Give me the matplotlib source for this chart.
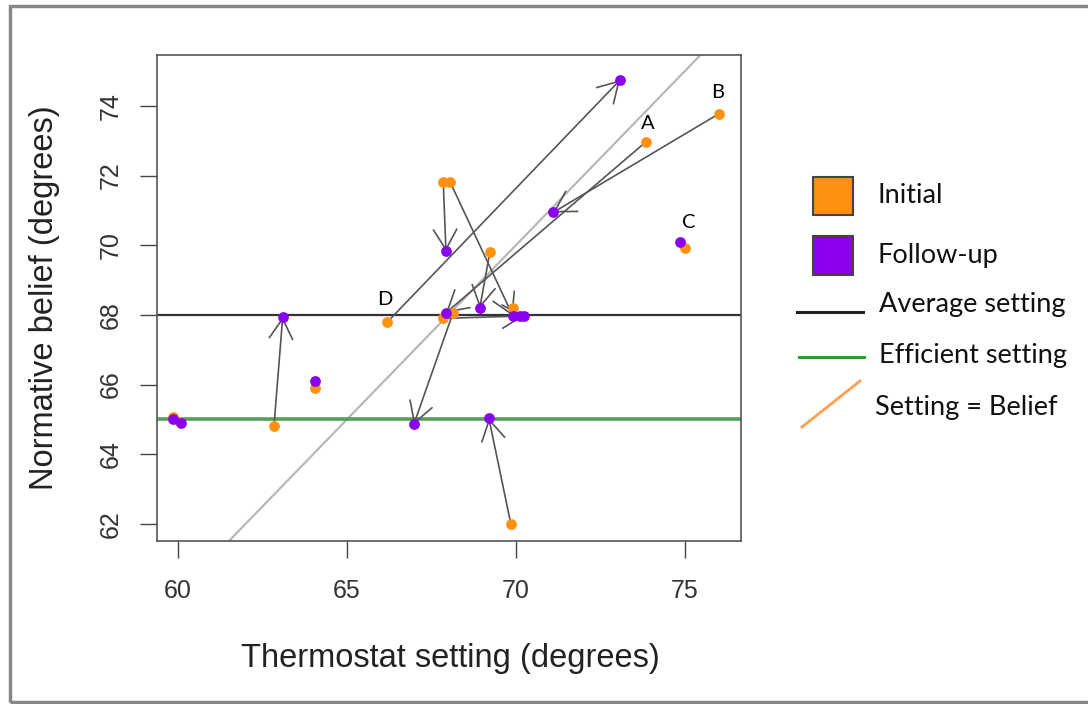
import numpy as np
import matplotlib
matplotlib.use("Agg")
import matplotlib.pyplot as plt
from matplotlib.patches import Rectangle
from matplotlib.lines import Line2D

# ---- data ----
init_x = [66.2, 73.85, 76.0, 67.85, 68.05, 69.23, 75.0, 68.14, 67.84, 69.91, 62.84, 64.05, 59.85, 60.05, 69.85]
init_y = [67.8, 72.97, 73.77, 71.82, 71.82, 69.8, 69.91, 68.06, 67.9, 68.2, 64.8, 65.91, 65.06, 64.92, 62.0]
foll_x = [73.08, 67.93, 71.1, 67.93, 69.91, 68.93, 74.85, 66.98, 70.24, 70.12, 63.1, 64.05, 59.85, 60.1, 69.2]
foll_y = [74.74, 68.06, 70.94, 69.83, 67.97, 68.2, 70.09, 64.86, 67.97, 67.97, 67.94, 66.09, 65.0, 64.9, 65.03]

labels = ["A", "B", "C", "D"]
label_x = [73.9, 75.98, 75.1, 66.12]
label_y = [73.5, 74.37, 70.66, 68.43]

average_setting = 68
efficient_setting = 65

x_ticks = [60, 65, 70, 75]
y_ticks = [62, 64, 66, 68, 70, 72, 74]

legend_labels = ["Initial", "Follow-up", "Average setting", "Efficient setting", "Setting = Belief"]

ORANGE = "#FF9010"
PURPLE = "#8A00EC"

W, H = 1088, 704
fig = plt.figure(figsize=(W / 100, H / 100), dpi=100)

def fx(px):
    return px / W

def fy(py):
    return 1 - py / H

ax = fig.add_axes([fx(157), fy(541), fx(741) - fx(157), fy(55) - fy(541)])
ax.set_xlim(59.38, 76.66)
ax.set_ylim(61.51, 75.46)

# reference lines
ax.axhline(average_setting, color="#333333", lw=1.6, zorder=2)
ax.axhline(efficient_setting, color="#55a055", lw=2.6, zorder=2)
lo, hi = 55, 80
ax.plot([lo, hi], [lo, hi], color="#b8b8b8", lw=1.6, zorder=1)

# arrows from initial to follow-up
for x0, y0, x1, y1 in zip(init_x, init_y, foll_x, foll_y):
    if np.hypot(x1 - x0, y1 - y0) > 0.5:
        ax.annotate("", xy=(x1, y1), xytext=(x0, y0),
                    arrowprops=dict(arrowstyle="->,head_length=0.72,head_width=0.42",
                                    mutation_scale=20, color="#555555", lw=1.2,
                                    shrinkA=0, shrinkB=0),
                    zorder=3)

ax.scatter(init_x, init_y, s=60, color=ORANGE, zorder=4, linewidths=0)
ax.scatter(foll_x, foll_y, s=60, color=PURPLE, zorder=5, linewidths=0)

for t, x, y in zip(labels, label_x, label_y):
    ax.text(x, y, t, ha="center", va="center", fontsize=14.5, family="Lato", color="black", zorder=6)

ax.set_xticks(x_ticks)
ax.set_yticks(y_ticks)
ax.tick_params(axis="both", direction="out", length=12, width=1.0, color="#444444",
               labelsize=18, labelcolor="#333333")
ax.tick_params(axis="x", pad=15)
ax.tick_params(axis="y", pad=13)
for lab in ax.get_yticklabels():
    lab.set_rotation(90)
    lab.set_va("center")
for lab in ax.get_xticklabels() + ax.get_yticklabels():
    lab.set_family("Liberation Sans")
for s in ax.spines.values():
    s.set_color("#555555")
    s.set_linewidth(1.2)

fig.text(fx(450), fy(658), "Thermostat setting (degrees)", ha="center", va="center",
         fontsize=23.5, family="Liberation Sans", color="#222222")
fig.text(fx(45), fy(298), "Normative belief (degrees)", ha="center", va="center",
         rotation=90, fontsize=23.5, family="Liberation Sans", color="#222222")

# legend drawn manually
fig.patches.append(Rectangle((fx(813), fy(215)), fx(853) - fx(813), fy(177) - fy(215),
                             transform=fig.transFigure, facecolor=ORANGE, edgecolor="#444444", lw=1.5))
fig.patches.append(Rectangle((fx(813), fy(275)), fx(853) - fx(813), fy(236) - fy(275),
                             transform=fig.transFigure, facecolor=PURPLE, edgecolor="#444444", lw=1.5))
fig.lines.append(Line2D([fx(797), fx(863)], [fy(312), fy(312)], transform=fig.transFigure,
                        color="#222222", lw=2.2))
fig.lines.append(Line2D([fx(799), fx(864)], [fy(357), fy(357)], transform=fig.transFigure,
                        color="#2aa02a", lw=2.2))
fig.lines.append(Line2D([fx(802), fx(860)], [fy(427), fy(381)], transform=fig.transFigure,
                        color="#FFA050", lw=2.0))
leg_tx = [877, 877, 879, 879, 875]
leg_ty = [196, 255, 304, 355, 408]
for t, x, y in zip(legend_labels, leg_tx, leg_ty):
    fig.text(fx(x), fy(y), t, ha="left", va="center", fontsize=19.5, family="Lato", color="#111111")

# outer frame (left, top, bottom)
fig.patches.append(Rectangle((fx(10), fy(702)), 1.2, fy(6) - fy(702), transform=fig.transFigure,
                             facecolor="none", edgecolor="#888888", lw=2.5))

fig.savefig("out.png", dpi=100)
